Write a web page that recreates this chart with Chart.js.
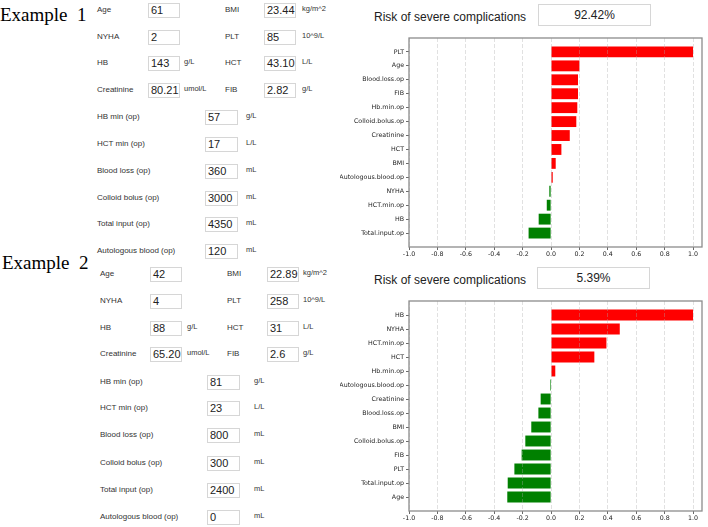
<!DOCTYPE html>
<html lang="en">
<head>
<meta charset="UTF-8">
<title>Risk of severe complications</title>
<script src="https://cdn.jsdelivr.net/npm/chart.js@4"></script>
<style>
    body { margin: 0; background: #fff; }
    #page { position: relative; width: 708px; height: 527px; overflow: hidden; font-family: "Liberation Sans", Arial, sans-serif; color: #333; }
    .ex { position: absolute; font-family: "Liberation Serif", "Times New Roman", serif; font-size: 19px; color: #000; white-space: nowrap; }
    .lbl { position: absolute; font-size: 8px; line-height: 10px; white-space: nowrap; }
    .unit { position: absolute; font-size: 7.5px; line-height: 10px; white-space: nowrap; }
    .box { position: absolute; height: 15px; border: 1px solid #d6d6d6; box-sizing: border-box; font-size: 11px; line-height: 13px; padding-left: 2px; color: #222; background: #fff; }
    .title { position: absolute; font-size: 12px; line-height: 14px; color: #222; white-space: nowrap; }
    .risk { position: absolute; width: 113px; height: 22px; border: 1px solid #d6d6d6; box-sizing: border-box; font-size: 12px; line-height: 20px; text-align: center; color: #222; }
    canvas { position: absolute; }
</style>
</head>
<body>
<div id="page">
    <div class="ex" style="left:0px; top:4px;">Example&nbsp;&nbsp;1</div>
    <div class="ex" style="left:2px; top:252px;">Example&nbsp;&nbsp;2</div>

    <div class="title" style="left:374px; top:10px;">Risk of severe complications</div>
    <div class="risk" id="risk1" style="left:538px; top:4px;"></div>
    <div class="title" style="left:374px; top:273px;">Risk of severe complications</div>
    <div class="risk" id="risk2" style="left:537px; top:267px;"></div>

    <canvas id="chart1" width="368" height="235" style="left:340px; top:30px;"></canvas>
    <canvas id="chart2" width="368" height="234" style="left:340px; top:293px;"></canvas>
</div>
<script>
// Входные данные пациентов (форма слева)
const ex1Top = [
    ['Age', '61', '', 'BMI', '23.44', 'kg/m^2'],
    ['NYHA', '2', '', 'PLT', '85', '10^9/L'],
    ['HB', '143', 'g/L', 'HCT', '43.10', 'L/L'],
    ['Creatinine', '80.21', 'umol/L', 'FIB', '2.82', 'g/L']
];
const ex1Bottom = [
    ['HB min (op)', '57', 'g/L'],
    ['HCT min (op)', '17', 'L/L'],
    ['Blood loss (op)', '360', 'mL'],
    ['Colloid bolus (op)', '3000', 'mL'],
    ['Total input (op)', '4350', 'mL'],
    ['Autologous blood (op)', '120', 'mL']
];
const ex2Top = [
    ['Age', '42', '', 'BMI', '22.89', 'kg/m^2'],
    ['NYHA', '4', '', 'PLT', '258', '10^9/L'],
    ['HB', '88', 'g/L', 'HCT', '31', 'L/L'],
    ['Creatinine', '65.20', 'umol/L', 'FIB', '2.6', 'g/L']
];
const ex2Bottom = [
    ['HB min (op)', '81', 'g/L'],
    ['HCT min (op)', '23', 'L/L'],
    ['Blood loss (op)', '800', 'mL'],
    ['Colloid bolus (op)', '300', 'mL'],
    ['Total input (op)', '2400', 'mL'],
    ['Autologous blood (op)', '0', 'mL']
];

// Риск и вклад признаков
const risk1 = '92.42%';
const risk2 = '5.39%';

const features1 = ['PLT', 'Age', 'Blood.loss.op', 'FIB', 'Hb.min.op', 'Colloid.bolus.op', 'Creatinine',
    'HCT', 'BMI', 'Autologous.blood.op', 'NYHA', 'HCT.min.op', 'HB', 'Total.input.op'];
const values1 = [1.0, 0.20, 0.19, 0.19, 0.185, 0.178, 0.132, 0.073, 0.033, 0.012, -0.012, -0.03, -0.087, -0.158];

const features2 = ['HB', 'NYHA', 'HCT.min.op', 'HCT', 'Hb.min.op', 'Autologous.blood.op', 'Creatinine',
    'Blood.loss.op', 'BMI', 'Colloid.bolus.op', 'FIB', 'PLT', 'Total.input.op', 'Age'];
const values2 = [1.0, 0.484, 0.39, 0.305, 0.03, -0.007, -0.073, -0.089, -0.139, -0.181, -0.207, -0.258, -0.305, -0.308];

const page = document.getElementById('page');

function addEl(cls, text, left, top, width) {
    const el = document.createElement('div');
    el.className = cls;
    el.textContent = text;
    el.style.left = left + 'px';
    el.style.top = top + 'px';
    if (width) el.style.width = width + 'px';
    page.appendChild(el);
}

// Рисуем форму: rows - центры строк по вертикали, x - позиции колонок
function buildForm(top, bottom, rows, x) {
    top.forEach((r, i) => {
        const y = rows[i];
        addEl('lbl', r[0], x.l1, y - 5);
        addEl('box', r[1], x.b1, y - 7, 32);
        if (r[2]) addEl('unit', r[2], x.u1, y - 6);
        addEl('lbl', r[3], x.l2, y - 5);
        addEl('box', r[4], x.b2, y - 7, 32);
        addEl('unit', r[5], x.u2, y - 6);
    });
    bottom.forEach((r, i) => {
        const y = rows[i + 4];
        addEl('lbl', r[0], x.l1, y - 5);
        addEl('box', r[1], x.b3, y - 7, 33);
        addEl('unit', r[2], x.u3, y - 6);
    });
}

buildForm(ex1Top, ex1Bottom, [10, 37, 63, 90, 117, 144, 171, 198, 224, 251],
    { l1: 97, b1: 148, u1: 184, l2: 225, b2: 264, u2: 302, b3: 205, u3: 246 });
buildForm(ex2Top, ex2Bottom, [274, 301, 328, 354, 382, 408, 435, 463, 490, 517],
    { l1: 100, b1: 150, u1: 187, l2: 227, b2: 267, u2: 303, b3: 207, u3: 254 });

document.getElementById('risk1').textContent = risk1;
document.getElementById('risk2').textContent = risk2;

// Рамка вокруг области графика
const frame = {
    id: 'frame',
    afterDraw(chart) {
        const a = chart.chartArea;
        const ctx = chart.ctx;
        ctx.save();
        ctx.strokeStyle = '#8c8c8c';
        ctx.lineWidth = 1.3;
        ctx.strokeRect(a.left, a.top, a.right - a.left, a.bottom - a.top);
        ctx.restore();
    }
};

function makeChart(id, features, values, yWidth, xHeight) {
    // пустые метки сверху и снизу дают отступ как в оригинале
    const labels = [''].concat(features, ['']);
    const data = [null].concat(values, [null]);
    const colors = data.map(v => (v !== null && v < 0) ? '#008000' : '#ff0000');
    const tickFont = { family: '"DejaVu Sans", sans-serif', size: 6.3 };

    return new Chart(document.getElementById(id), {
        type: 'bar',
        data: {
            labels: labels,
            datasets: [{
                data: data,
                backgroundColor: colors,
                borderWidth: 0,
                barPercentage: 0.78,
                categoryPercentage: 1
            }]
        },
        options: {
            indexAxis: 'y',
            responsive: false,
            animation: false,
            layout: { padding: { top: 8, right: 6, bottom: 0, left: 0 } },
            plugins: { legend: { display: false }, tooltip: { enabled: false } },
            scales: {
                x: {
                    type: 'linear',
                    min: -1,
                    max: 1.063,
                    afterFit: s => { s.height = xHeight; },
                    border: { display: false, dash: [4, 2] },
                    grid: {
                        color: 'rgba(170,170,170,0.45)',
                        lineWidth: 0.8,
                        z: 1,
                        tickLength: 3,
                        tickColor: '#444',
                        tickBorderDash: [],
                        tickWidth: 0.8
                    },
                    ticks: {
                        stepSize: 0.2,
                        includeBounds: false,
                        padding: 1,
                        color: '#222',
                        font: tickFont,
                        maxRotation: 0,
                        callback: v => (Math.abs(v) < 1e-9 ? 0 : v).toFixed(1)
                    }
                },
                y: {
                    type: 'category',
                    offset: false,
                    afterFit: s => { s.width = yWidth; },
                    border: { display: false },
                    grid: {
                        offset: false,
                        drawOnChartArea: false,
                        tickLength: 3,
                        tickWidth: 0.8,
                        tickColor: c => (c.tick && c.tick.label) ? '#444' : 'rgba(0,0,0,0)'
                    },
                    ticks: {
                        padding: 2,
                        color: '#222',
                        font: tickFont,
                        autoSkip: false
                    }
                }
            }
        },
        plugins: [frame]
    });
}

makeChart('chart1', features1, values1, 69, 18);
makeChart('chart2', features2, values2, 69, 16);
</script>
</body>
</html>
